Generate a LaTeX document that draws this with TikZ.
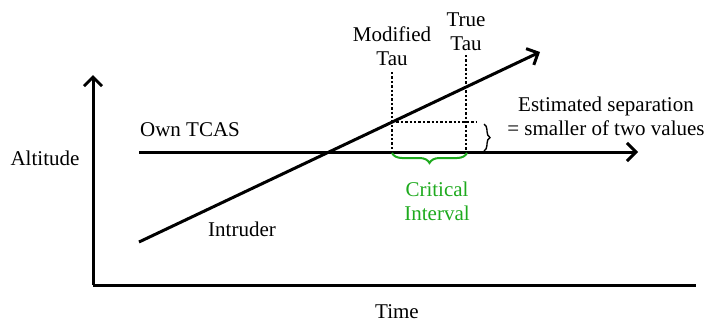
\documentclass[tikz,border=0pt]{standalone}
\usepackage{fontspec}
\setmainfont{Liberation Serif}
\usetikzlibrary{arrows.meta,decorations.pathreplacing}
\definecolor{critgreen}{RGB}{30,170,30}
\tikzset{
  axis/.style={line width=3pt, -{Straight Barb[length=9pt,width=18pt,line width=3pt]}},
  tauline/.style={line width=2.4pt, dotted},
  lbl/.style={inner sep=0pt, align=center, font=\fontsize{21}{24}\selectfont}
}
\begin{document}
\begin{tikzpicture}[x=1pt,y=-1pt]
  \useasboundingbox (0,0) rectangle (707,325);
  % axes
  \coordinate (o) at (93,285);
  \coordinate (ytop) at (93,75);
  \coordinate (xend) at (696,285);
  \draw[axis] (o) -- (ytop);
  \draw[line width=3pt] (o) -- (xend);
  \node[lbl] (alt) at (45,158) {Altitude};
  \node[lbl] (time) at (397,312) {Time};
  % own aircraft and intruder
  \coordinate (own0) at (139,152);
  \coordinate (own1) at (638,152);
  \coordinate (int0) at (139,242);
  \coordinate (int1) at (540,52);
  \draw[axis] (own0) -- (own1);
  \draw[axis] (int0) -- (int1);
  \node[lbl] (own) at (190,130) {Own TCAS};
  \node[lbl] (intr) at (242,229) {Intruder};
  % tau lines
  \coordinate (mtop) at (392,72);
  \coordinate (mbot) at (392,152);
  \coordinate (ttop) at (466,55);
  \coordinate (tbot) at (466,152);
  \coordinate (cross) at (392,122);
  \coordinate (sepend) at (476,122);
  \draw[tauline] (mtop) -- (mbot);
  \draw[tauline] (ttop) -- (tbot);
  \draw[tauline] (cross) -- (sepend);
  \node[lbl, anchor=south] (mod) at (392,66) {Modified\\Tau};
  \node[lbl, anchor=south] (tru) at (466,51) {True\\Tau};
  % braces
  \draw[critgreen, line width=2pt, decorate, decoration={brace, amplitude=10pt, mirror}]
    (392,153) -- (467,153);
  \node[lbl, text=critgreen] (crit) at (437,201) {Critical\\Interval};
  \draw[line width=1.4pt, decorate, decoration={brace, amplitude=6pt}]
    (484,124) -- (484,151);
  \node[lbl] (est) at (606,116) {Estimated separation\\= smaller of two values};
\end{tikzpicture}
\end{document}
